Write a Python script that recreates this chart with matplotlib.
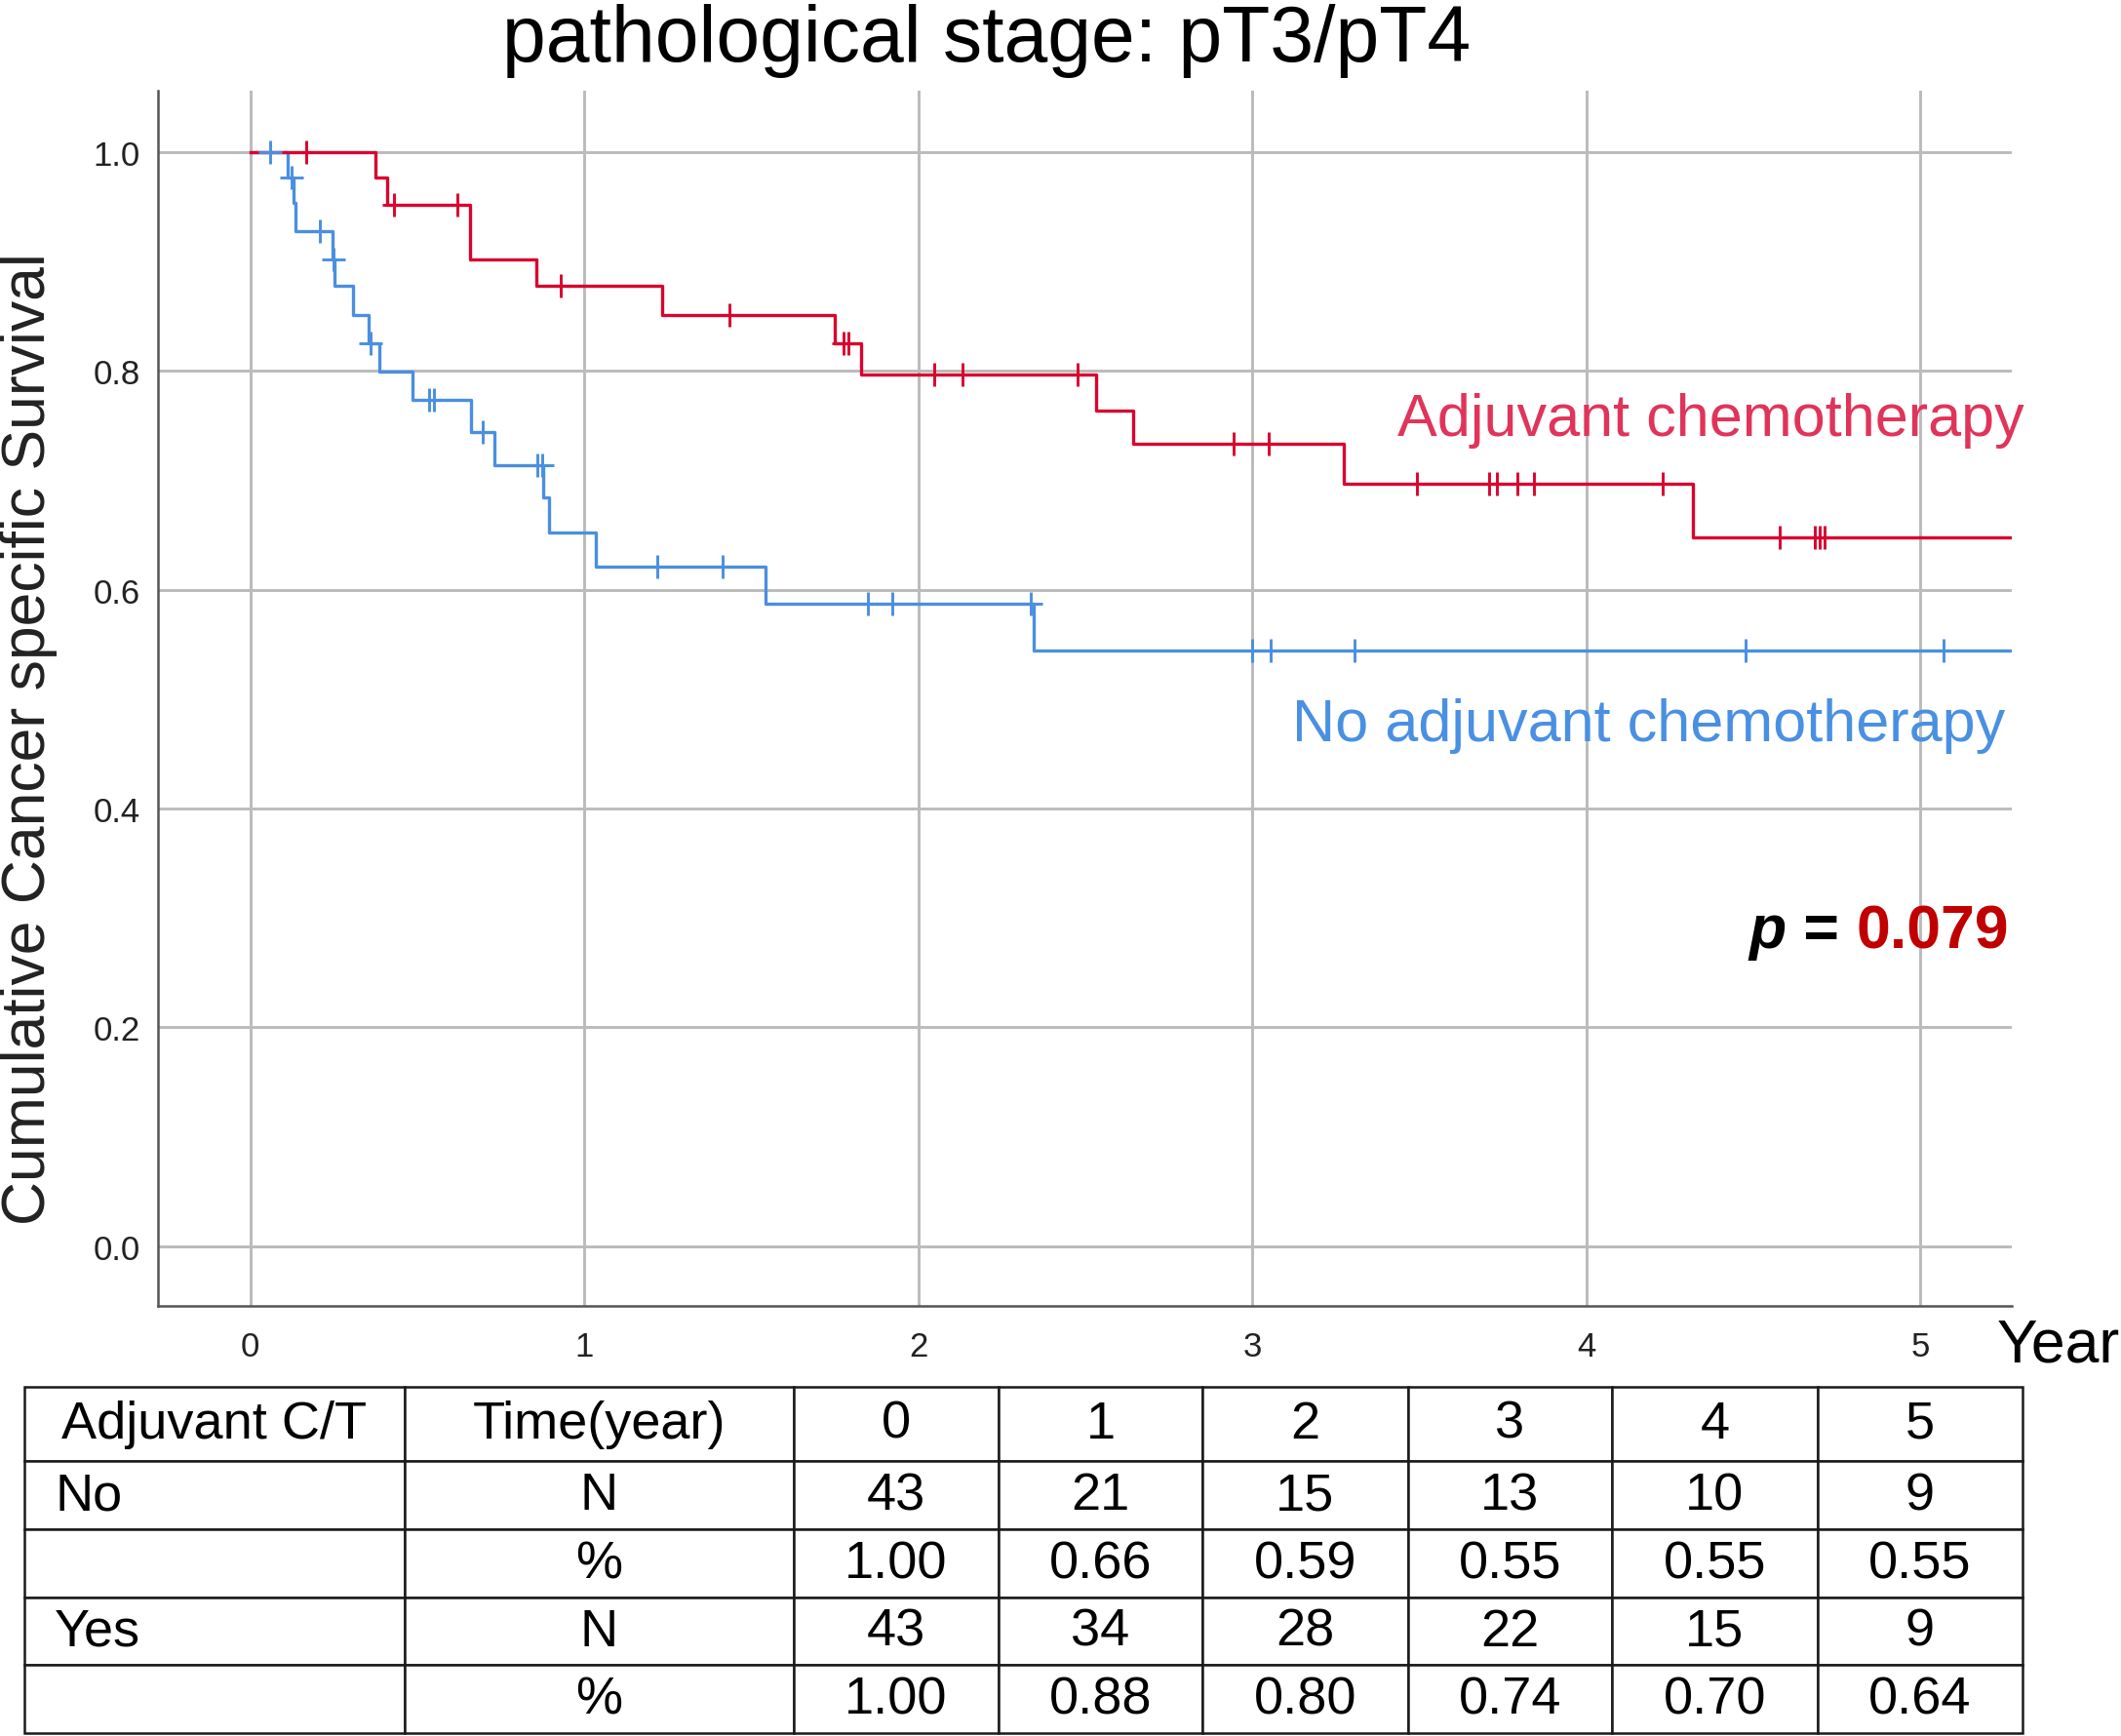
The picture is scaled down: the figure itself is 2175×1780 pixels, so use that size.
import numpy as np
import matplotlib
matplotlib.use("Agg")
from matplotlib import pyplot as plt

plt.rcParams.update({
    "font.family": ["Liberation Sans", "DejaVu Sans"],
    "axes.linewidth": 1.8,
    "axes.edgecolor": "#555555",
})

# Kaplan-Meier curves (years, cumulative survival)
yes_step_t = [0.0, 0.375, 0.409, 0.658, 0.856, 1.234, 1.749, 1.829, 2.531, 2.642, 3.274, 4.318]
yes_step_s = [1.0, 0.977, 0.952, 0.902, 0.878, 0.851, 0.825, 0.797, 0.764, 0.733, 0.697, 0.648]
yes_censor_t = [0.167, 0.43, 0.62, 0.93, 1.435, 1.775, 1.79, 2.048, 2.131, 2.476, 2.944, 3.048,
                3.491, 3.707, 3.732, 3.792, 3.844, 4.228, 4.577, 4.684, 4.697, 4.714]

no_step_t = [0.0, 0.112, 0.13, 0.136, 0.246, 0.253, 0.308, 0.354, 0.387, 0.487, 0.662, 0.732,
             0.878, 0.893, 1.034, 1.543, 2.346]
no_step_s = [1.0, 0.977, 0.953, 0.928, 0.902, 0.878, 0.851, 0.825, 0.799, 0.773, 0.744, 0.714,
             0.684, 0.652, 0.621, 0.587, 0.544]
no_censor_t = [0.06, 0.125, 0.208, 0.25, 0.36, 0.534, 0.549, 0.695, 0.859, 0.873, 1.219, 1.414,
               1.848, 1.923, 2.335, 3.0, 3.055, 3.307, 4.475, 5.068]

follow_up_end = 5.275

# numbers-at-risk table
table_header = ["Adjuvant C/T", "Time(year)", "0", "1", "2", "3", "4", "5"]
no_n = [43, 21, 15, 13, 10, 9]
no_pct = [1.00, 0.66, 0.59, 0.55, 0.55, 0.55]
yes_n = [43, 34, 28, 22, 15, 9]
yes_pct = [1.00, 0.88, 0.80, 0.74, 0.70, 0.64]

RED = "#d9042f"
BLUE = "#4a8fe0"


def km_xy(step_t, step_s, t_end):
    x = np.append(step_t, t_end)
    y = np.append(step_s, step_s[-1])
    return x, y


def censor_y(step_t, step_s, cens_t):
    idx = np.searchsorted(step_t, cens_t, side="right") - 1
    return np.asarray(step_s)[idx]


fig = plt.figure(figsize=(21.75, 17.81), dpi=100)
ax = fig.add_axes([0.0745, 0.2476, 0.874, 0.6996])

for st, ss, ct, col in [(no_step_t, no_step_s, no_censor_t, BLUE),
                        (yes_step_t, yes_step_s, yes_censor_t, RED)]:
    x, y = km_xy(st, ss, follow_up_end)
    ax.step(x, y, where="post", color=col, lw=2.4, zorder=3)
    ax.plot(ct, censor_y(st, ss, ct), ls="none", marker="+", ms=17, mew=2.1,
            color=col, zorder=4)

ax.set_xlim(-0.276, 5.273)
ax.set_ylim(-0.0546, 1.0559)
ax.set_xticks(range(6))
ax.set_yticks([0.0, 0.2, 0.4, 0.6, 0.8, 1.0])
ax.set_yticklabels([f"{v:.1f}" for v in [0.0, 0.2, 0.4, 0.6, 0.8, 1.0]])
ax.tick_params(axis="x", length=0, pad=18, labelsize=25, labelcolor="#222222")
ax.tick_params(axis="y", length=0, pad=13, labelsize=25, labelcolor="#222222")
ax.grid(True, color="#bbbbbb", lw=2.1)
ax.set_axisbelow(True)
for side in ["top", "right"]:
    ax.spines[side].set_visible(False)

ax.text(5.311, 0.7415, "Adjuvant chemotherapy", color="#e0345a", fontsize=44,
        ha="right", va="baseline", clip_on=False)
ax.text(5.254, 0.4623, "No adjuvant chemotherapy", color="#4a90e2", fontsize=44,
        ha="right", va="baseline", clip_on=False)

t_p = ax.text(5.264, 0.2734, "0.079", color="#c00000", fontsize=45, fontweight="bold",
              ha="right", va="baseline")
t_eq = ax.annotate(" = ", xy=(0, 0), xycoords=t_p, ha="right", va="bottom",
                   fontsize=45, fontweight="bold", color="black")
ax.annotate("p", xy=(0, 0), xycoords=t_eq, ha="right", va="bottom",
            fontsize=45, fontweight="bold", fontstyle="italic", color="black")

fig.text(1012 / 2175, 1 - 63 / 1781, "pathological stage: pT3/pT4", fontsize=58,
         ha="center", va="baseline")
fig.text(30 / 2175, 1 - 758 / 1781, "Cumulative Cancer specific Survival", fontsize=45,
         rotation=90, ha="center", va="center", color="#222222")
fig.text(2048 / 2175, 1 - 1397 / 1781, "Year", fontsize=45, ha="left", va="baseline")

# table
rows = [table_header,
        ["No", "N"] + [str(v) for v in no_n],
        ["", "%"] + [f"{v:.2f}" for v in no_pct],
        ["Yes", "N"] + [str(v) for v in yes_n],
        ["", "%"] + [f"{v:.2f}" for v in yes_pct]]
col_w = np.array([390, 399, 210, 209, 211, 209, 211, 210], dtype=float)
row_h = [76.6, 70, 70, 69, 70]

ax_tab = fig.add_axes([25 / 2175, 1 - 1778 / 1781, 2049 / 2175, 355.3 / 1781])
ax_tab.axis("off")
tbl = ax_tab.table(cellText=rows, colWidths=list(col_w / col_w.sum()), cellLoc="center",
                   bbox=[0, 0, 1, 1])
tbl.auto_set_font_size(False)
tbl.set_fontsize(39)
for (r, c), cell in tbl.get_celld().items():
    cell.set_height(row_h[r] / sum(row_h))
    cell.set_linewidth(1.8)
    cell.set_edgecolor("#1a1a1a")
    if c == 0 and r > 0:
        cell._loc = "left"
        cell.PAD = 0.08
        cell.get_text().set_ha("left")

fig.savefig("out.png", dpi=100)
